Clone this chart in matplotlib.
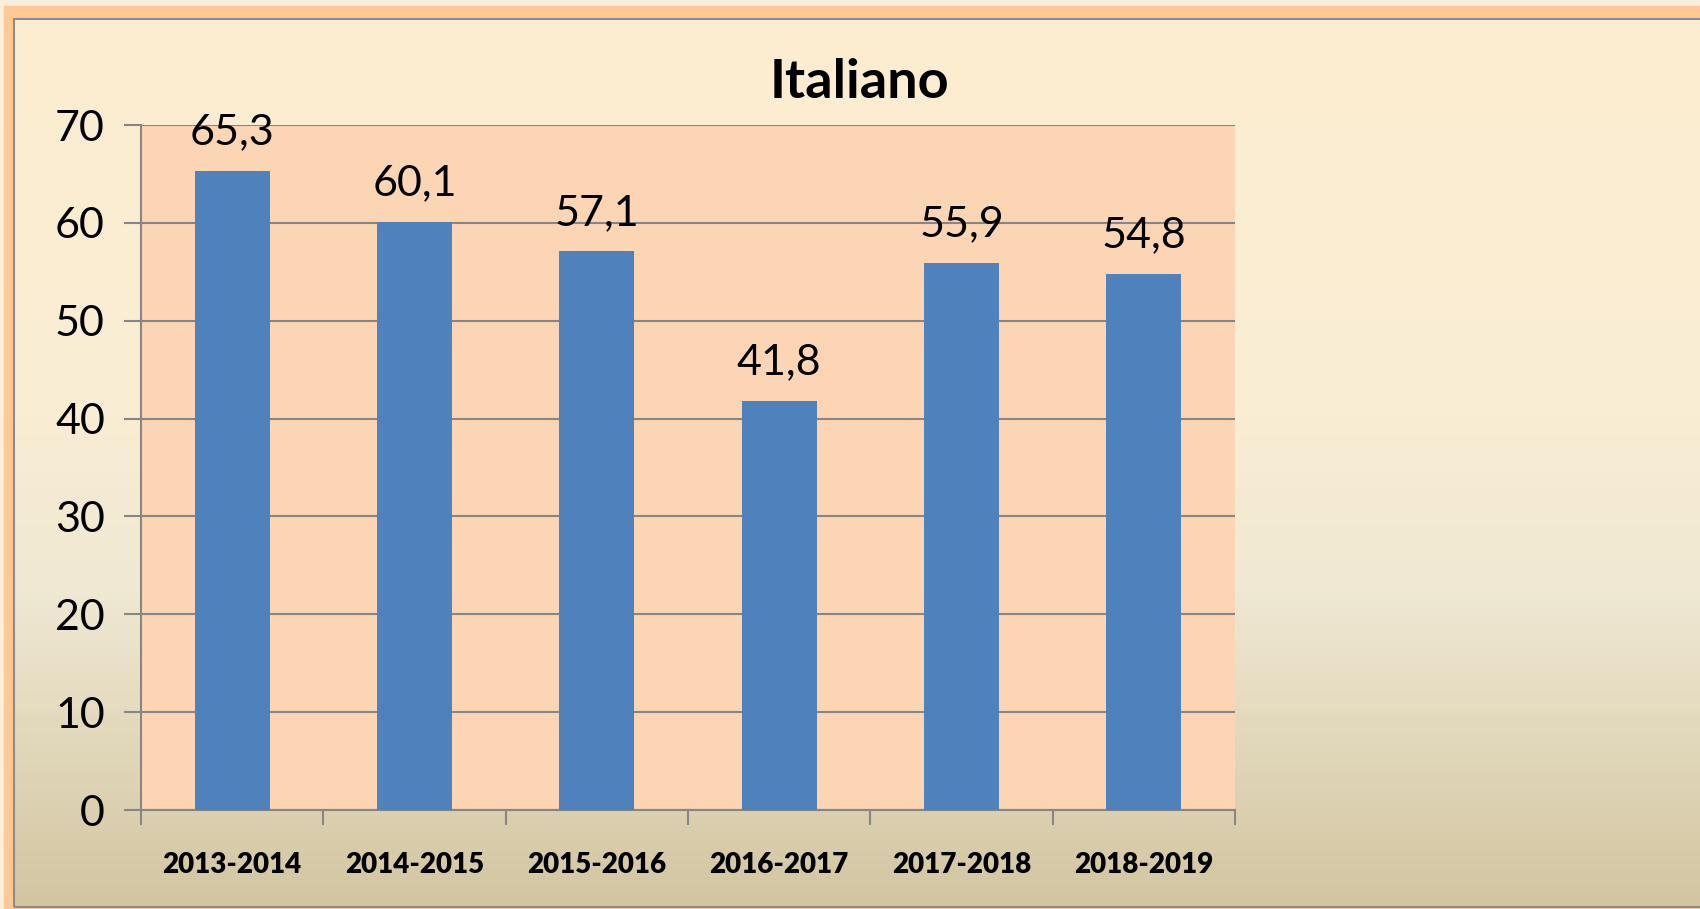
import matplotlib.pyplot as plt
import numpy as np
from matplotlib.colors import LinearSegmentedColormap
from matplotlib.patches import Rectangle

years = ['2013-2014', '2014-2015', '2015-2016', '2016-2017', '2017-2018', '2018-2019']
values = [65.3, 60.1, 57.1, 41.8, 55.9, 54.8]
labels = ['65,3', '60,1', '57,1', '41,8', '55,9', '54,8']
yticks = [0, 10, 20, 30, 40, 50, 60, 70]

W, H = 1700, 909
plt.rcParams['font.family'] = ['Lato', 'DejaVu Sans']

fig = plt.figure(figsize=(W / 100, H / 100), dpi=100)

# background: frame and gradient, in pixel coords
bg = fig.add_axes([0, 0, 1, 1])
bg.set_xlim(0, W)
bg.set_ylim(H, 0)
bg.axis('off')
bg.add_patch(Rectangle((0, 0), W, H, color='#FBEFDC', zorder=0))
bg.add_patch(Rectangle((4, 6), W, H, color='#FEC995', zorder=1))
cmap = LinearSegmentedColormap.from_list('bg', [(0, '#FDEED1'), (0.45, '#F9EDD4'),
                                                (0.65, '#EFE8D2'), (1.0, '#D2C5A1')])
grad = np.linspace(0, 1, 256).reshape(-1, 1)
bg.imshow(grad, cmap=cmap, aspect='auto', extent=(15, W, 906, 19), zorder=2)
bg.plot([15, W], [18.5, 18.5], color='#8C8C8C', lw=1.5, zorder=3)
bg.plot([14.5, 14.5], [18.5, 906], color='#8C8C8C', lw=1.5, zorder=3)
bg.plot([15, W], [906.5, 906.5], color='#8C8C8C', lw=1.5, zorder=3)

# plot area
l, r, t, b = 141, 1235, 125, 810
ax = fig.add_axes([l / W, 1 - b / H, (r - l) / W, (b - t) / H])
ax.set_facecolor('#FCD5B5')
x = np.arange(len(years))
ax.bar(x, values, width=0.41, color='#4F81BD', zorder=3)
for xi, v, lab in zip(x, values, labels):
    ax.annotate(lab, (xi, v), xytext=(0, 14), textcoords='offset points',
                ha='center', va='bottom', fontsize=31, color='black')

ax.set_xlim(-0.5, len(years) - 0.5)
ax.set_ylim(0, 70)
ax.set_yticks(yticks)
ax.set_yticklabels([str(v) for v in yticks], fontsize=31)
ax.yaxis.grid(True, color='#868686', lw=1.5, zorder=1)
ax.tick_params(axis='y', length=12, width=1.5, color='#868686', pad=14)

ax.set_xticks(np.arange(len(years) + 1) - 0.5, minor=False)
ax.set_xticklabels([])
ax.set_xticks(x, minor=True)
ax.set_xticklabels(years, minor=True, fontsize=20, fontweight='heavy')
ax.tick_params(axis='x', which='major', length=11, width=1.5, color='#868686', direction='out')
ax.tick_params(axis='x', which='minor', length=0, pad=30)

for s in ['top', 'right']:
    ax.spines[s].set_visible(False)
ax.spines['left'].set_color('#868686')
ax.spines['bottom'].set_color('#868686')
ax.spines['left'].set_linewidth(1.5)
ax.spines['bottom'].set_linewidth(1.5)

fig.text(860 / W, 1 - 82 / H, 'Italiano', ha='center', va='center',
         fontsize=39, fontweight='bold')

fig.savefig('out.png', dpi=100)
